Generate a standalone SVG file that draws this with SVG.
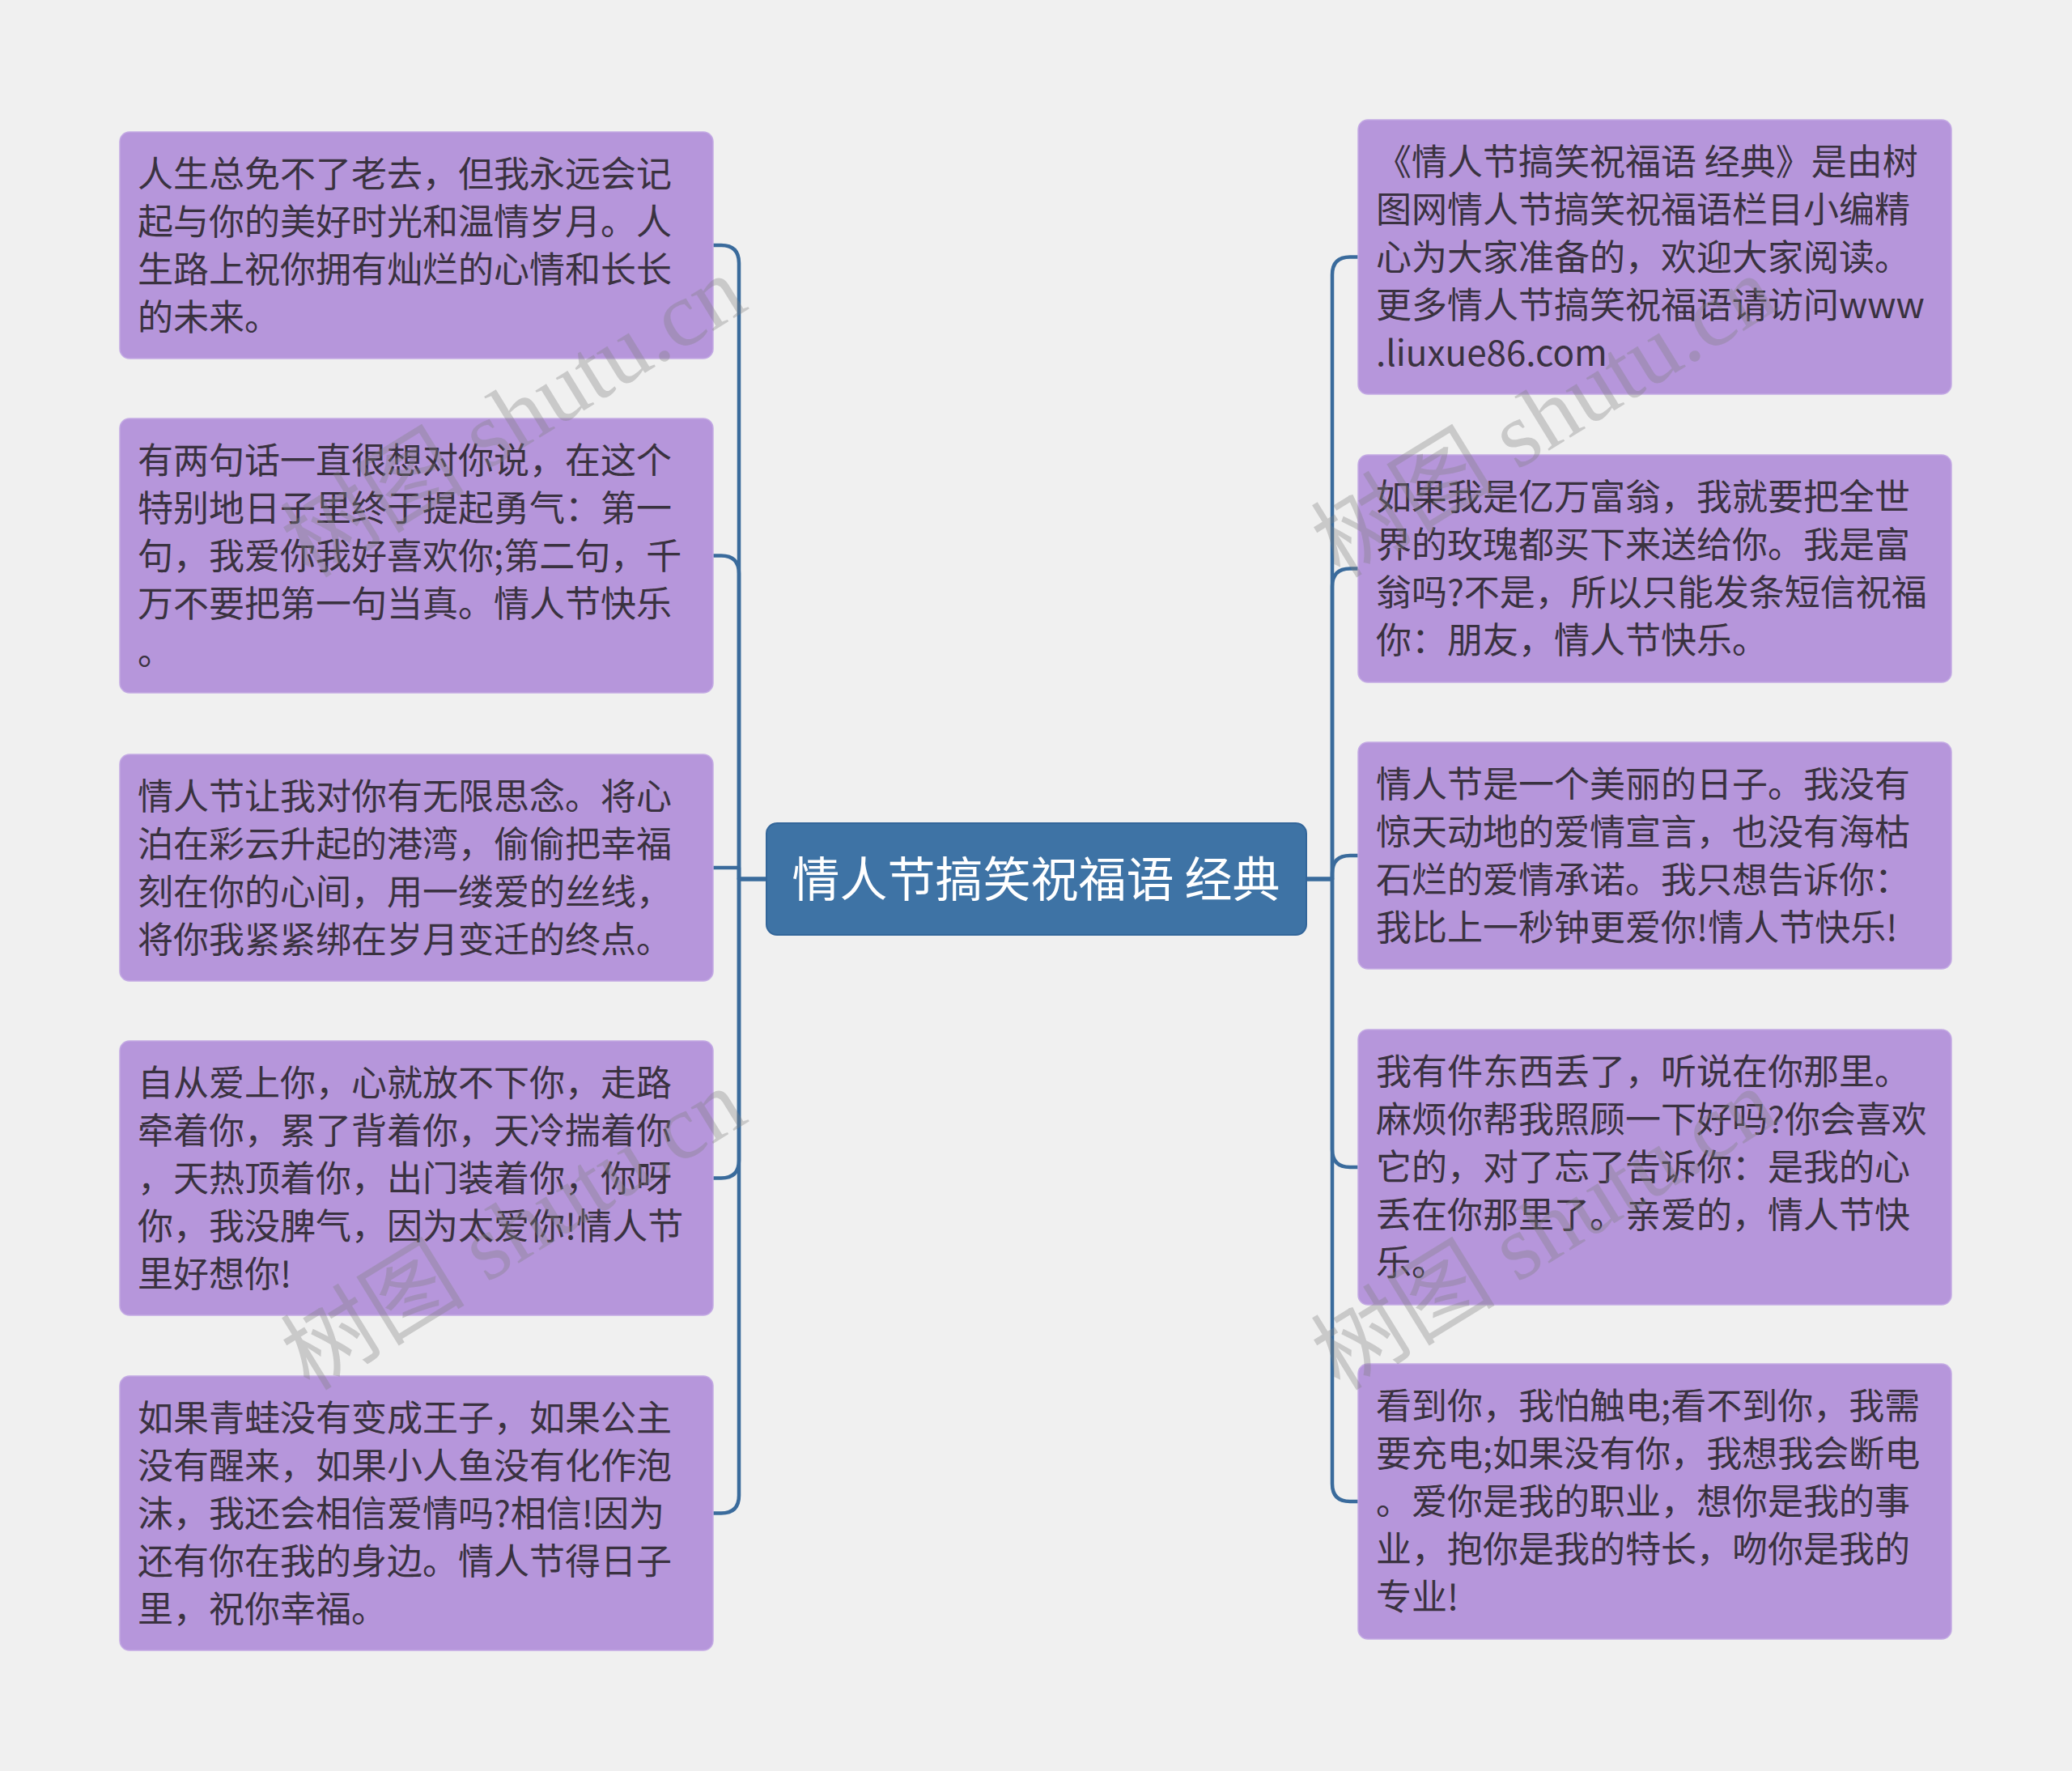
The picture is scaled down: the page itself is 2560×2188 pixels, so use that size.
<svg xmlns="http://www.w3.org/2000/svg" width="2560" height="2188" viewBox="0 0 2560 2188">
<style>
.bg{fill:#f0f0f0}
.node rect{fill:#b696db;stroke:#c4abe4;stroke-width:1.5}
.node text{font-family:"Noto Sans CJK SC","Noto Sans",sans-serif;font-size:44px;fill:#3a3240}
.root rect{fill:#3e73a5;stroke:#33669a;stroke-width:2}
.root text{font-family:"Noto Sans CJK SC","Noto Sans",sans-serif;font-size:59px;fill:#ffffff;text-anchor:middle}
.conn path{fill:none;stroke:#3a6b9c;stroke-width:4.5;stroke-linejoin:round}
.wm text{font-family:"Liberation Serif","Noto Sans CJK SC",serif;font-size:114px;fill:#808080;fill-opacity:0.35;text-anchor:middle}
</style>
<rect class="bg" x="0" y="0" width="2560" height="2188"/>
<g id="connectors" class="conn">
<path d="M947 1086 H913 V325 Q913 303 891 303 H881"/>
<path d="M947 1086 H913 V708.5 Q913 686.5 891 686.5 H881"/>
<path d="M947 1086 H913 V1072 H881"/>
<path d="M947 1086 H913 V1433.5 Q913 1455.5 891 1455.5 H881"/>
<path d="M947 1086 H913 V1847.5 Q913 1869.5 891 1869.5 H881"/>
<path d="M1614 1086 H1646 V339.5 Q1646 317.5 1668 317.5 H1678"/>
<path d="M1614 1086 H1646 V724.5 Q1646 702.5 1668 702.5 H1678"/>
<path d="M1614 1086 H1646 V1079 Q1646 1057 1668 1057 H1678"/>
<path d="M1614 1086 H1646 V1420 Q1646 1442 1668 1442 H1678"/>
<path d="M1614 1086 H1646 V1833 Q1646 1855 1668 1855 H1678"/>
</g>
<g id="root" class="root">
<rect x="947" y="1017" width="667" height="138" rx="13"/>
<text x="1280" y="1108">情人节搞笑祝福语 经典</text>
</g>
<g id="L1" class="node">
<rect x="148" y="163" width="733" height="280" rx="12"/>
<text y="230.5"><tspan x="170">人生总免不了老去，但我永远会记</tspan><tspan x="170" dy="59">起与你的美好时光和温情岁月。人</tspan><tspan x="170" dy="59">生路上祝你拥有灿烂的心情和长长</tspan><tspan x="170" dy="59">的未来。</tspan></text>
</g>
<g id="L2" class="node">
<rect x="148" y="517" width="733" height="339" rx="12"/>
<text y="584.5"><tspan x="170">有两句话一直很想对你说，在这个</tspan><tspan x="170" dy="59">特别地日子里终于提起勇气：第一</tspan><tspan x="170" dy="59">句，我爱你我好喜欢你;第二句，千</tspan><tspan x="170" dy="59">万不要把第一句当真。情人节快乐</tspan><tspan x="170" dy="59">。</tspan></text>
</g>
<g id="L3" class="node">
<rect x="148" y="932" width="733" height="280" rx="12"/>
<text y="999.5"><tspan x="170">情人节让我对你有无限思念。将心</tspan><tspan x="170" dy="59">泊在彩云升起的港湾，偷偷把幸福</tspan><tspan x="170" dy="59">刻在你的心间，用一缕爱的丝线，</tspan><tspan x="170" dy="59">将你我紧紧绑在岁月变迁的终点。</tspan></text>
</g>
<g id="L4" class="node">
<rect x="148" y="1286" width="733" height="339" rx="12"/>
<text y="1353.5"><tspan x="170">自从爱上你，心就放不下你，走路</tspan><tspan x="170" dy="59">牵着你，累了背着你，天冷揣着你</tspan><tspan x="170" dy="59">，天热顶着你，出门装着你，你呀</tspan><tspan x="170" dy="59">你，我没脾气，因为太爱你!情人节</tspan><tspan x="170" dy="59">里好想你!</tspan></text>
</g>
<g id="L5" class="node">
<rect x="148" y="1700" width="733" height="339" rx="12"/>
<text y="1767.5"><tspan x="170">如果青蛙没有变成王子，如果公主</tspan><tspan x="170" dy="59">没有醒来，如果小人鱼没有化作泡</tspan><tspan x="170" dy="59">沫，我还会相信爱情吗?相信!因为</tspan><tspan x="170" dy="59">还有你在我的身边。情人节得日子</tspan><tspan x="170" dy="59">里，祝你幸福。</tspan></text>
</g>
<g id="R1" class="node">
<rect x="1678" y="148" width="733" height="339" rx="12"/>
<text y="215.5"><tspan x="1700">《情人节搞笑祝福语 经典》是由树</tspan><tspan x="1700" dy="59">图网情人节搞笑祝福语栏目小编精</tspan><tspan x="1700" dy="59">心为大家准备的，欢迎大家阅读。</tspan><tspan x="1700" dy="59">更多情人节搞笑祝福语请访问www</tspan><tspan x="1700" dy="59">.liuxue86.com</tspan></text>
</g>
<g id="R2" class="node">
<rect x="1678" y="562" width="733" height="281" rx="12"/>
<text y="630"><tspan x="1700">如果我是亿万富翁，我就要把全世</tspan><tspan x="1700" dy="59">界的玫瑰都买下来送给你。我是富</tspan><tspan x="1700" dy="59">翁吗?不是，所以只能发条短信祝福</tspan><tspan x="1700" dy="59">你：朋友，情人节快乐。</tspan></text>
</g>
<g id="R3" class="node">
<rect x="1678" y="917" width="733" height="280" rx="12"/>
<text y="984.5"><tspan x="1700">情人节是一个美丽的日子。我没有</tspan><tspan x="1700" dy="59">惊天动地的爱情宣言，也没有海枯</tspan><tspan x="1700" dy="59">石烂的爱情承诺。我只想告诉你：</tspan><tspan x="1700" dy="59">我比上一秒钟更爱你!情人节快乐!</tspan></text>
</g>
<g id="R4" class="node">
<rect x="1678" y="1272" width="733" height="340" rx="12"/>
<text y="1340"><tspan x="1700">我有件东西丢了，听说在你那里。</tspan><tspan x="1700" dy="59">麻烦你帮我照顾一下好吗?你会喜欢</tspan><tspan x="1700" dy="59">它的，对了忘了告诉你：是我的心</tspan><tspan x="1700" dy="59">丢在你那里了。亲爱的，情人节快</tspan><tspan x="1700" dy="59">乐。</tspan></text>
</g>
<g id="R5" class="node">
<rect x="1678" y="1685" width="733" height="340" rx="12"/>
<text y="1753"><tspan x="1700">看到你，我怕触电;看不到你，我需</tspan><tspan x="1700" dy="59">要充电;如果没有你，我想我会断电</tspan><tspan x="1700" dy="59">。爱你是我的职业，想你是我的事</tspan><tspan x="1700" dy="59">业，抱你是我的特长，吻你是我的</tspan><tspan x="1700" dy="59">专业!</tspan></text>
</g>
<g id="watermarks" class="wm">
<text transform="translate(655 548) rotate(-31.6)">树图 shutu.cn</text>
<text transform="translate(1928 548) rotate(-31.6)">树图 shutu.cn</text>
<text transform="translate(655 1552) rotate(-31.6)">树图 shutu.cn</text>
<text transform="translate(1928 1552) rotate(-31.6)">树图 shutu.cn</text>
</g>
</svg>
